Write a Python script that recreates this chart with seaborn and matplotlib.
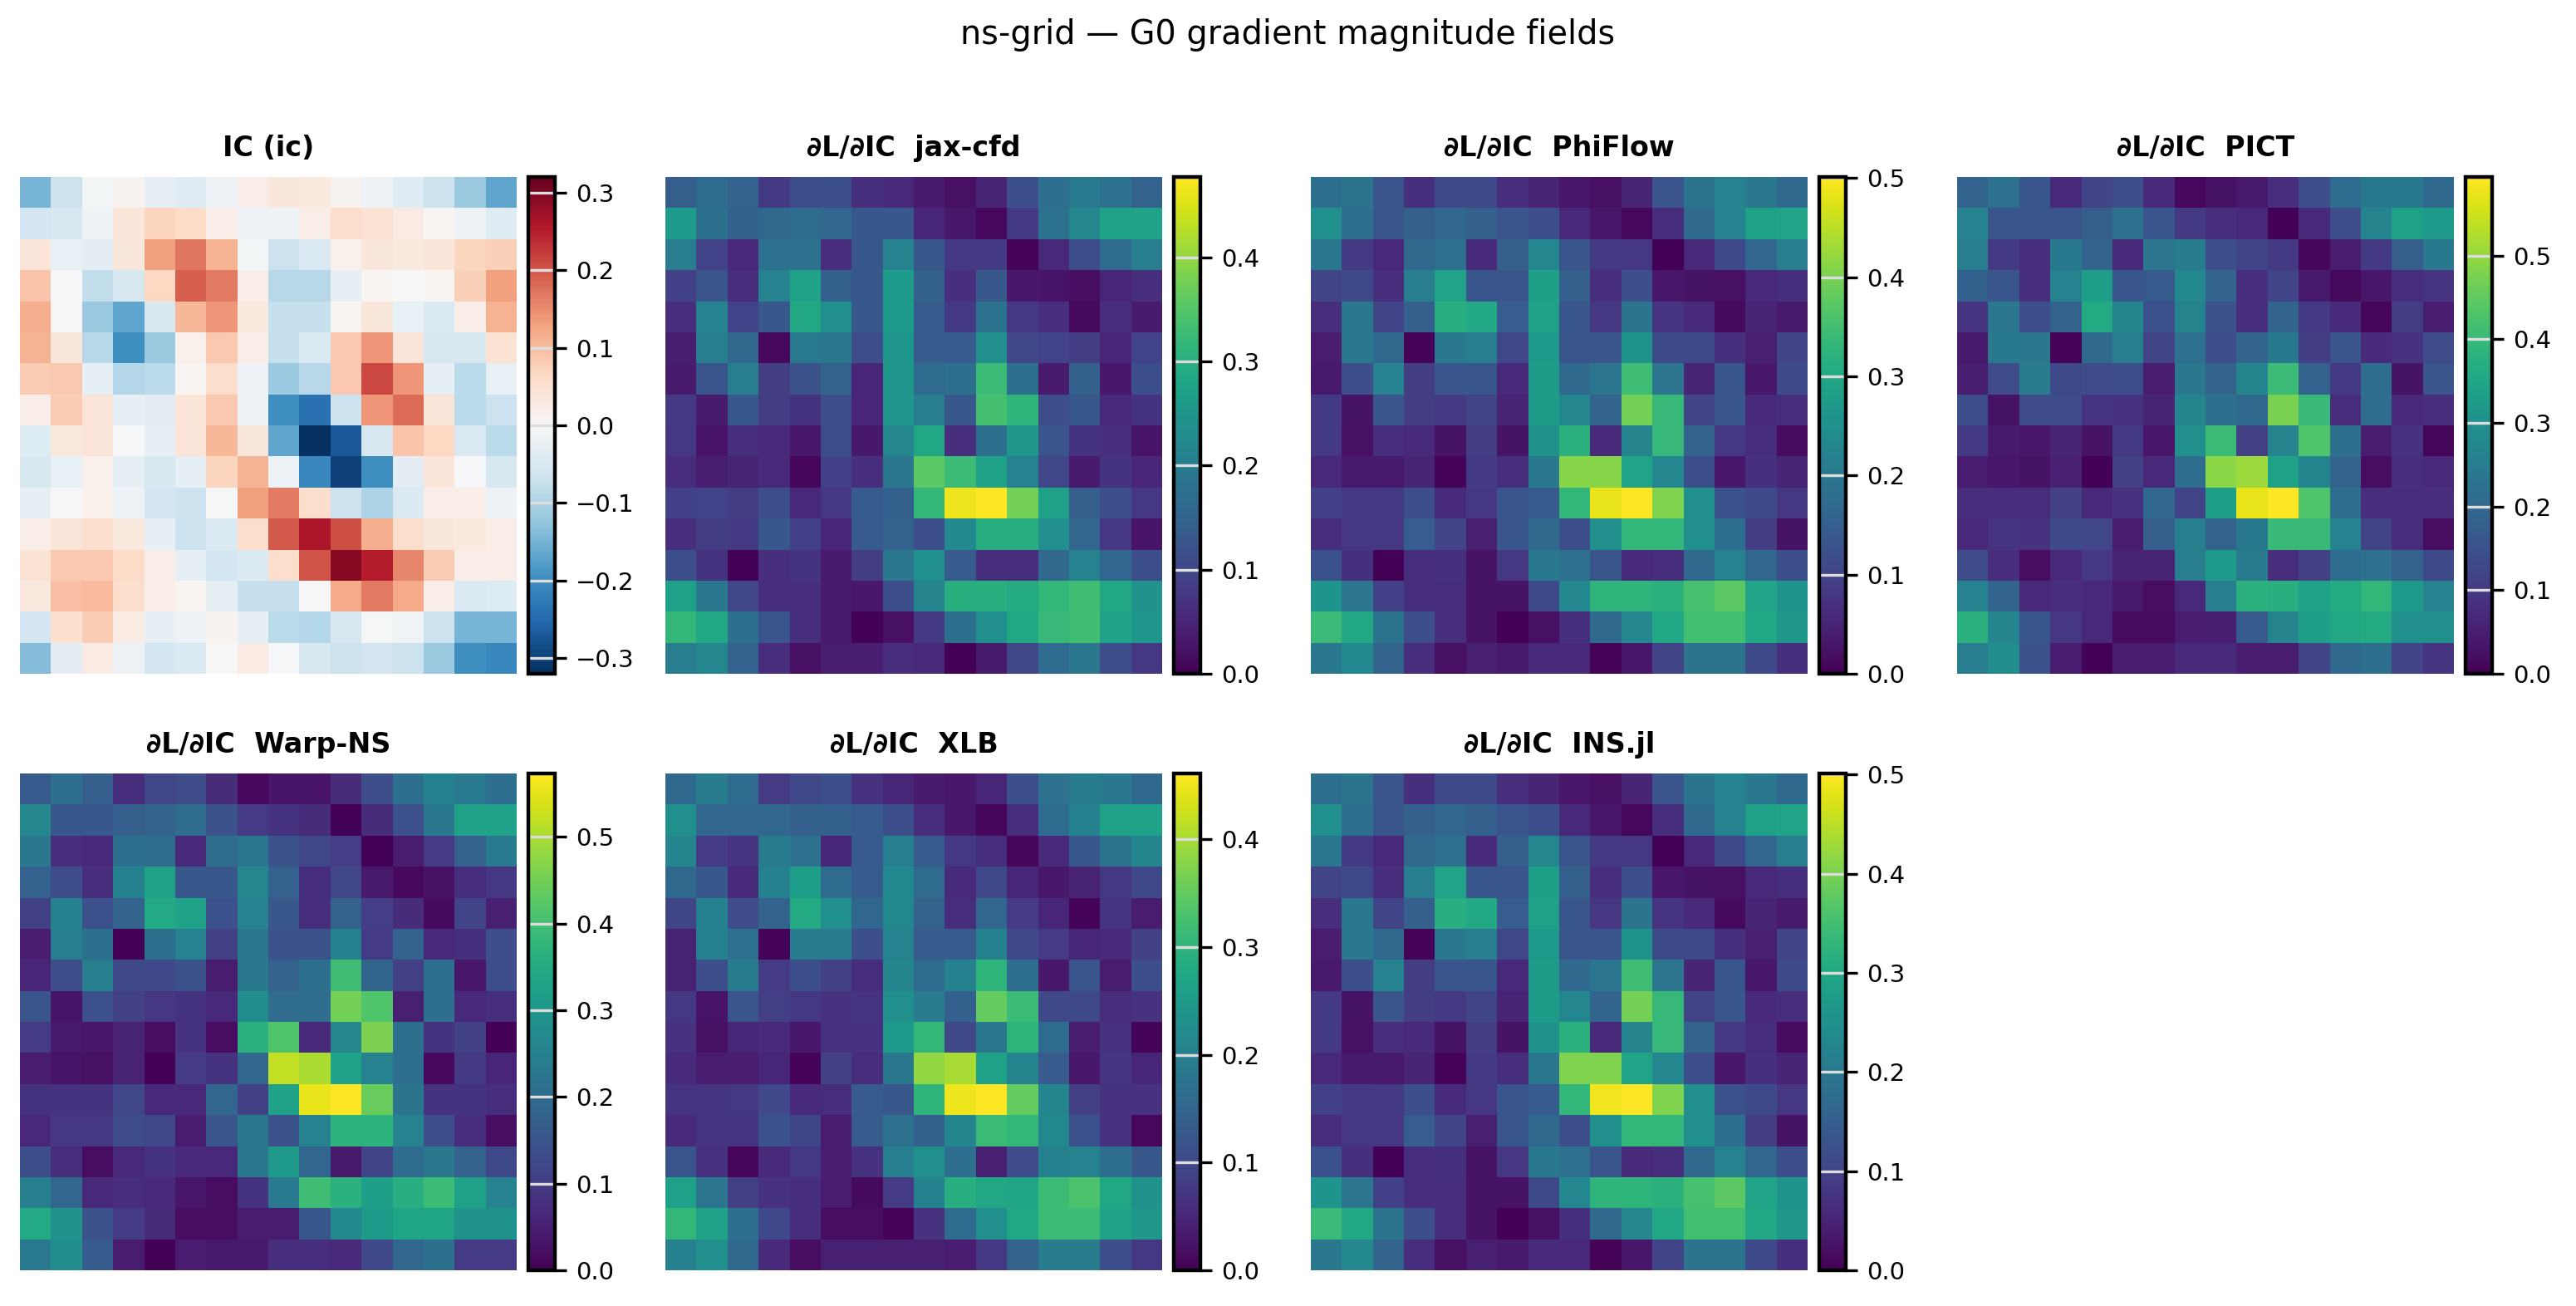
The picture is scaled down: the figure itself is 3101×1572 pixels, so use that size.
import matplotlib
matplotlib.use("Agg")
import matplotlib.pyplot as plt
import numpy as np
import seaborn as sns

# initial condition field (16x16)
ic = [
    [-0.15, -0.07, -0.01, 0.01, -0.03, -0.04, -0.02, 0.02, 0.035, 0.03, 0.01, -0.02, -0.04, -0.07, -0.12, -0.17],
    [-0.06, -0.055, -0.02, 0.04, 0.07, 0.06, 0.02, -0.02, -0.02, 0.02, 0.055, 0.045, 0.025, 0.005, -0.02, -0.04],
    [0.04, -0.025, -0.035, 0.035, 0.13, 0.17, 0.11, -0.01, -0.07, -0.05, 0.015, 0.035, 0.03, 0.04, 0.07, 0.075],
    [0.09, -0.005, -0.08, -0.055, 0.065, 0.19, 0.165, 0.02, -0.09, -0.09, -0.03, 0.005, -0.005, 0.005, 0.075, 0.13],
    [0.115, 0.002, -0.12, -0.17, -0.055, 0.105, 0.14, 0.03, -0.075, -0.075, 0.005, 0.035, -0.025, -0.05, 0.02, 0.11],
    [0.11, 0.035, -0.09, -0.2, -0.12, 0.015, 0.085, 0.02, -0.075, -0.05, 0.085, 0.14, 0.04, -0.055, -0.055, 0.045],
    [0.08, 0.085, -0.03, -0.095, -0.085, 0.005, 0.055, -0.02, -0.12, -0.09, 0.085, 0.21, 0.14, -0.03, -0.085, -0.025],
    [0.02, 0.08, 0.04, -0.03, -0.035, 0.04, 0.085, -0.02, -0.2, -0.24, -0.07, 0.14, 0.18, 0.04, -0.085, -0.07],
    [-0.045, 0.03, 0.04, -0.005, -0.03, 0.04, 0.105, 0.035, -0.17, -0.32, -0.27, -0.055, 0.09, 0.065, -0.05, -0.085],
    [-0.055, -0.025, 0.015, -0.03, -0.055, -0.03, 0.07, 0.11, -0.02, -0.21, -0.3, -0.2, -0.035, 0.04, -0.005, -0.055],
    [-0.03, -0.005, 0.015, -0.02, -0.06, -0.07, 0.002, 0.13, 0.165, 0.055, -0.07, -0.1, -0.05, 0.02, 0.02, -0.02],
    [0.02, 0.04, 0.055, 0.03, -0.03, -0.07, -0.05, 0.055, 0.195, 0.26, 0.205, 0.115, 0.055, 0.035, 0.03, 0.02],
    [0.045, 0.085, 0.085, 0.06, 0.02, -0.03, -0.06, -0.05, 0.055, 0.2, 0.29, 0.25, 0.155, 0.08, 0.02, 0.02],
    [0.03, 0.095, 0.1, 0.055, 0.02, 0.005, -0.03, -0.075, -0.075, 0.002, 0.12, 0.165, 0.12, 0.02, -0.05, -0.045],
    [-0.06, 0.05, 0.08, 0.025, -0.03, -0.02, 0.01, -0.03, -0.085, -0.095, -0.055, -0.005, -0.015, -0.07, -0.15, -0.15],
    [-0.14, -0.035, 0.025, -0.02, -0.06, -0.05, 0.002, 0.025, -0.005, -0.055, -0.07, -0.06, -0.07, -0.12, -0.2, -0.21],
]
ic_limit = 0.32

# |dL/dIC| per solver
jax_cfd = [
    [0.14, 0.165, 0.15, 0.08, 0.11, 0.115, 0.067, 0.055, 0.035, 0.02, 0.048, 0.115, 0.17, 0.195, 0.18, 0.148],
    [0.26, 0.175, 0.145, 0.16, 0.165, 0.155, 0.13, 0.13, 0.052, 0.03, 0.01, 0.08, 0.18, 0.22, 0.275, 0.275],
    [0.2, 0.095, 0.055, 0.18, 0.18, 0.06, 0.13, 0.21, 0.13, 0.08, 0.08, 0.005, 0.055, 0.11, 0.165, 0.2],
    [0.09, 0.125, 0.06, 0.21, 0.275, 0.145, 0.13, 0.26, 0.145, 0.065, 0.13, 0.03, 0.025, 0.015, 0.05, 0.065],
    [0.065, 0.21, 0.095, 0.13, 0.285, 0.235, 0.13, 0.26, 0.135, 0.08, 0.18, 0.075, 0.065, 0.012, 0.06, 0.035],
    [0.04, 0.2, 0.16, 0.01, 0.195, 0.19, 0.11, 0.25, 0.135, 0.135, 0.235, 0.1, 0.095, 0.085, 0.05, 0.095],
    [0.035, 0.125, 0.2, 0.085, 0.12, 0.15, 0.05, 0.25, 0.165, 0.175, 0.325, 0.175, 0.035, 0.145, 0.03, 0.115],
    [0.08, 0.035, 0.13, 0.085, 0.07, 0.11, 0.05, 0.25, 0.2, 0.13, 0.335, 0.31, 0.11, 0.13, 0.055, 0.07],
    [0.075, 0.025, 0.065, 0.055, 0.03, 0.11, 0.03, 0.22, 0.285, 0.065, 0.175, 0.255, 0.125, 0.07, 0.065, 0.025],
    [0.06, 0.04, 0.048, 0.055, 0.008, 0.09, 0.065, 0.19, 0.355, 0.325, 0.275, 0.21, 0.1, 0.035, 0.07, 0.05],
    [0.09, 0.095, 0.085, 0.11, 0.055, 0.075, 0.135, 0.145, 0.315, 0.465, 0.477, 0.375, 0.27, 0.14, 0.115, 0.075],
    [0.065, 0.085, 0.08, 0.13, 0.09, 0.05, 0.135, 0.15, 0.115, 0.225, 0.3, 0.3, 0.235, 0.155, 0.075, 0.025],
    [0.115, 0.07, 0.003, 0.065, 0.07, 0.035, 0.085, 0.19, 0.235, 0.135, 0.065, 0.065, 0.16, 0.21, 0.155, 0.115],
    [0.27, 0.19, 0.1, 0.065, 0.065, 0.035, 0.03, 0.115, 0.215, 0.3, 0.3, 0.29, 0.315, 0.33, 0.285, 0.245],
    [0.315, 0.285, 0.175, 0.125, 0.065, 0.035, 0.003, 0.02, 0.08, 0.175, 0.235, 0.285, 0.32, 0.33, 0.275, 0.25],
    [0.2, 0.22, 0.15, 0.06, 0.02, 0.04, 0.04, 0.06, 0.055, 0.003, 0.035, 0.1, 0.165, 0.19, 0.11, 0.075],
]

phiflow = [
    [0.18, 0.19, 0.13, 0.07, 0.11, 0.11, 0.065, 0.05, 0.03, 0.02, 0.05, 0.13, 0.19, 0.22, 0.2, 0.17],
    [0.25, 0.18, 0.13, 0.15, 0.165, 0.15, 0.13, 0.12, 0.055, 0.03, 0.01, 0.065, 0.17, 0.22, 0.285, 0.29],
    [0.2, 0.085, 0.055, 0.17, 0.185, 0.06, 0.15, 0.23, 0.13, 0.085, 0.08, 0.003, 0.055, 0.11, 0.165, 0.21],
    [0.1, 0.11, 0.065, 0.21, 0.29, 0.135, 0.135, 0.28, 0.15, 0.065, 0.12, 0.03, 0.025, 0.02, 0.055, 0.07],
    [0.065, 0.2, 0.1, 0.15, 0.315, 0.3, 0.145, 0.285, 0.135, 0.08, 0.19, 0.075, 0.06, 0.012, 0.05, 0.035],
    [0.04, 0.2, 0.17, 0.005, 0.2, 0.21, 0.105, 0.27, 0.13, 0.13, 0.26, 0.11, 0.11, 0.07, 0.045, 0.1],
    [0.035, 0.12, 0.22, 0.09, 0.135, 0.135, 0.055, 0.275, 0.17, 0.195, 0.345, 0.195, 0.05, 0.135, 0.03, 0.11],
    [0.085, 0.025, 0.13, 0.09, 0.085, 0.1, 0.05, 0.275, 0.23, 0.16, 0.395, 0.335, 0.1, 0.135, 0.06, 0.065],
    [0.085, 0.02, 0.065, 0.06, 0.025, 0.09, 0.025, 0.255, 0.32, 0.06, 0.225, 0.335, 0.155, 0.08, 0.065, 0.015],
    [0.055, 0.035, 0.035, 0.05, 0.005, 0.085, 0.065, 0.2, 0.41, 0.41, 0.29, 0.23, 0.12, 0.03, 0.07, 0.05],
    [0.095, 0.08, 0.085, 0.12, 0.06, 0.08, 0.13, 0.14, 0.33, 0.485, 0.501, 0.405, 0.25, 0.125, 0.11, 0.08],
    [0.065, 0.08, 0.08, 0.145, 0.1, 0.045, 0.135, 0.17, 0.12, 0.25, 0.33, 0.33, 0.25, 0.18, 0.09, 0.025],
    [0.125, 0.07, 0.003, 0.065, 0.07, 0.025, 0.08, 0.2, 0.185, 0.13, 0.06, 0.065, 0.17, 0.22, 0.165, 0.12],
    [0.26, 0.195, 0.095, 0.065, 0.065, 0.025, 0.025, 0.11, 0.23, 0.325, 0.325, 0.32, 0.355, 0.375, 0.29, 0.26],
    [0.34, 0.3, 0.19, 0.12, 0.065, 0.025, 0.003, 0.02, 0.07, 0.17, 0.23, 0.3, 0.35, 0.35, 0.3, 0.265],
    [0.2, 0.235, 0.16, 0.065, 0.02, 0.045, 0.035, 0.06, 0.055, 0.005, 0.03, 0.1, 0.19, 0.19, 0.11, 0.07],
]

pict = [
    [0.19, 0.22, 0.16, 0.07, 0.12, 0.14, 0.07, 0.012, 0.03, 0.04, 0.08, 0.14, 0.205, 0.24, 0.24, 0.2],
    [0.26, 0.16, 0.155, 0.155, 0.175, 0.22, 0.16, 0.1, 0.08, 0.065, 0.004, 0.07, 0.14, 0.265, 0.34, 0.32],
    [0.25, 0.1, 0.08, 0.24, 0.19, 0.07, 0.23, 0.245, 0.14, 0.12, 0.1, 0.01, 0.045, 0.1, 0.175, 0.24],
    [0.18, 0.16, 0.08, 0.26, 0.33, 0.16, 0.165, 0.28, 0.19, 0.08, 0.12, 0.04, 0.015, 0.035, 0.075, 0.09],
    [0.09, 0.235, 0.14, 0.185, 0.36, 0.27, 0.145, 0.265, 0.15, 0.08, 0.19, 0.1, 0.07, 0.008, 0.105, 0.045],
    [0.04, 0.24, 0.235, 0.005, 0.2, 0.25, 0.12, 0.22, 0.14, 0.19, 0.24, 0.105, 0.155, 0.07, 0.085, 0.135],
    [0.05, 0.135, 0.245, 0.13, 0.135, 0.14, 0.045, 0.235, 0.185, 0.27, 0.405, 0.185, 0.1, 0.21, 0.03, 0.155],
    [0.14, 0.03, 0.135, 0.135, 0.09, 0.085, 0.06, 0.27, 0.215, 0.2, 0.475, 0.4, 0.075, 0.21, 0.065, 0.08],
    [0.1, 0.04, 0.035, 0.06, 0.03, 0.1, 0.035, 0.295, 0.405, 0.115, 0.265, 0.43, 0.215, 0.045, 0.085, 0.008],
    [0.045, 0.035, 0.03, 0.055, 0.003, 0.115, 0.065, 0.21, 0.49, 0.505, 0.34, 0.27, 0.19, 0.02, 0.08, 0.065],
    [0.075, 0.075, 0.075, 0.115, 0.065, 0.085, 0.195, 0.12, 0.33, 0.575, 0.594, 0.43, 0.21, 0.075, 0.075, 0.075],
    [0.065, 0.09, 0.085, 0.13, 0.125, 0.045, 0.175, 0.255, 0.185, 0.24, 0.4, 0.4, 0.26, 0.12, 0.075, 0.02],
    [0.135, 0.075, 0.02, 0.065, 0.095, 0.06, 0.06, 0.25, 0.32, 0.245, 0.075, 0.115, 0.21, 0.22, 0.185, 0.13],
    [0.26, 0.19, 0.065, 0.075, 0.065, 0.04, 0.02, 0.065, 0.25, 0.38, 0.375, 0.34, 0.36, 0.39, 0.32, 0.26],
    [0.38, 0.27, 0.16, 0.095, 0.065, 0.018, 0.018, 0.045, 0.05, 0.165, 0.265, 0.33, 0.355, 0.36, 0.295, 0.295],
    [0.25, 0.29, 0.15, 0.045, 0.004, 0.045, 0.045, 0.065, 0.07, 0.045, 0.045, 0.12, 0.2, 0.215, 0.12, 0.09],
]

warp_ns = [
    [0.16, 0.205, 0.17, 0.075, 0.12, 0.13, 0.07, 0.012, 0.03, 0.03, 0.07, 0.135, 0.205, 0.25, 0.235, 0.205],
    [0.265, 0.155, 0.155, 0.17, 0.18, 0.2, 0.145, 0.1, 0.085, 0.07, 0.004, 0.07, 0.14, 0.23, 0.33, 0.33],
    [0.23, 0.075, 0.065, 0.21, 0.2, 0.065, 0.2, 0.225, 0.145, 0.12, 0.105, 0.004, 0.045, 0.1, 0.175, 0.235],
    [0.175, 0.135, 0.075, 0.25, 0.33, 0.155, 0.155, 0.265, 0.175, 0.075, 0.12, 0.04, 0.012, 0.025, 0.075, 0.09],
    [0.11, 0.25, 0.14, 0.18, 0.345, 0.33, 0.14, 0.255, 0.155, 0.075, 0.18, 0.105, 0.07, 0.015, 0.115, 0.05],
    [0.045, 0.24, 0.21, 0.004, 0.21, 0.255, 0.11, 0.23, 0.145, 0.145, 0.25, 0.1, 0.175, 0.065, 0.08, 0.135],
    [0.06, 0.135, 0.245, 0.125, 0.125, 0.145, 0.045, 0.23, 0.18, 0.21, 0.395, 0.185, 0.11, 0.205, 0.035, 0.135],
    [0.15, 0.03, 0.14, 0.11, 0.09, 0.085, 0.065, 0.28, 0.2, 0.2, 0.45, 0.415, 0.05, 0.205, 0.065, 0.075],
    [0.1, 0.04, 0.035, 0.055, 0.02, 0.085, 0.02, 0.365, 0.415, 0.065, 0.265, 0.46, 0.21, 0.085, 0.11, 0.004],
    [0.045, 0.03, 0.025, 0.055, 0.003, 0.1, 0.085, 0.19, 0.52, 0.5, 0.33, 0.255, 0.205, 0.012, 0.095, 0.06],
    [0.085, 0.085, 0.085, 0.12, 0.065, 0.065, 0.19, 0.11, 0.33, 0.555, 0.573, 0.44, 0.22, 0.085, 0.085, 0.075],
    [0.065, 0.09, 0.09, 0.13, 0.12, 0.045, 0.15, 0.23, 0.145, 0.255, 0.37, 0.37, 0.255, 0.135, 0.075, 0.02],
    [0.135, 0.075, 0.018, 0.065, 0.085, 0.065, 0.065, 0.23, 0.31, 0.19, 0.04, 0.115, 0.2, 0.23, 0.175, 0.125],
    [0.245, 0.19, 0.065, 0.075, 0.065, 0.035, 0.018, 0.085, 0.235, 0.395, 0.365, 0.32, 0.36, 0.39, 0.325, 0.255],
    [0.345, 0.29, 0.145, 0.1, 0.07, 0.018, 0.018, 0.045, 0.045, 0.155, 0.27, 0.31, 0.335, 0.335, 0.29, 0.29],
    [0.235, 0.28, 0.165, 0.045, 0.004, 0.045, 0.04, 0.04, 0.075, 0.075, 0.065, 0.125, 0.19, 0.21, 0.1, 0.1],
]

xlb = [
    [0.155, 0.19, 0.16, 0.08, 0.1, 0.11, 0.065, 0.05, 0.033, 0.03, 0.05, 0.11, 0.17, 0.19, 0.185, 0.155],
    [0.23, 0.15, 0.15, 0.15, 0.14, 0.14, 0.13, 0.11, 0.06, 0.03, 0.008, 0.06, 0.16, 0.2, 0.265, 0.265],
    [0.21, 0.08, 0.07, 0.19, 0.17, 0.05, 0.13, 0.195, 0.13, 0.075, 0.06, 0.008, 0.055, 0.125, 0.175, 0.21],
    [0.155, 0.125, 0.055, 0.2, 0.255, 0.16, 0.13, 0.215, 0.16, 0.055, 0.1, 0.05, 0.03, 0.045, 0.075, 0.1],
    [0.095, 0.2, 0.105, 0.145, 0.28, 0.23, 0.15, 0.215, 0.145, 0.06, 0.15, 0.08, 0.05, 0.004, 0.07, 0.035],
    [0.045, 0.2, 0.17, 0.004, 0.19, 0.19, 0.11, 0.205, 0.13, 0.13, 0.2, 0.1, 0.08, 0.05, 0.055, 0.09],
    [0.045, 0.11, 0.19, 0.08, 0.11, 0.09, 0.06, 0.21, 0.16, 0.2, 0.3, 0.165, 0.03, 0.12, 0.035, 0.11],
    [0.075, 0.025, 0.12, 0.085, 0.075, 0.065, 0.07, 0.23, 0.19, 0.14, 0.35, 0.315, 0.1, 0.1, 0.06, 0.065],
    [0.065, 0.02, 0.05, 0.055, 0.03, 0.065, 0.065, 0.25, 0.305, 0.1, 0.185, 0.3, 0.16, 0.035, 0.065, 0.004],
    [0.055, 0.035, 0.035, 0.05, 0.004, 0.09, 0.06, 0.185, 0.385, 0.4, 0.265, 0.21, 0.13, 0.03, 0.07, 0.05],
    [0.07, 0.07, 0.075, 0.1, 0.055, 0.06, 0.13, 0.125, 0.3, 0.45, 0.461, 0.35, 0.21, 0.085, 0.065, 0.065],
    [0.055, 0.07, 0.07, 0.115, 0.095, 0.035, 0.13, 0.17, 0.14, 0.21, 0.315, 0.305, 0.215, 0.115, 0.065, 0.01],
    [0.12, 0.065, 0.008, 0.055, 0.075, 0.035, 0.065, 0.195, 0.23, 0.165, 0.04, 0.105, 0.2, 0.205, 0.165, 0.125],
    [0.26, 0.18, 0.085, 0.065, 0.06, 0.035, 0.012, 0.08, 0.2, 0.29, 0.275, 0.27, 0.315, 0.33, 0.275, 0.235],
    [0.305, 0.265, 0.165, 0.1, 0.06, 0.015, 0.015, 0.004, 0.065, 0.16, 0.23, 0.275, 0.315, 0.315, 0.265, 0.245],
    [0.2, 0.23, 0.155, 0.055, 0.015, 0.04, 0.04, 0.04, 0.04, 0.035, 0.075, 0.145, 0.19, 0.19, 0.11, 0.075],
]

ins_jl = [
    [0.18, 0.19, 0.13, 0.07, 0.11, 0.11, 0.065, 0.05, 0.03, 0.02, 0.05, 0.13, 0.19, 0.22, 0.2, 0.17],
    [0.25, 0.18, 0.13, 0.15, 0.165, 0.15, 0.13, 0.12, 0.055, 0.03, 0.01, 0.065, 0.17, 0.22, 0.285, 0.29],
    [0.2, 0.085, 0.055, 0.17, 0.185, 0.06, 0.15, 0.23, 0.13, 0.085, 0.08, 0.003, 0.055, 0.11, 0.165, 0.21],
    [0.1, 0.11, 0.065, 0.21, 0.29, 0.135, 0.135, 0.28, 0.15, 0.065, 0.12, 0.03, 0.025, 0.02, 0.055, 0.07],
    [0.065, 0.2, 0.1, 0.15, 0.315, 0.3, 0.145, 0.285, 0.135, 0.08, 0.19, 0.075, 0.06, 0.012, 0.05, 0.035],
    [0.04, 0.2, 0.17, 0.005, 0.2, 0.21, 0.105, 0.27, 0.13, 0.13, 0.26, 0.11, 0.11, 0.07, 0.045, 0.1],
    [0.035, 0.12, 0.22, 0.09, 0.135, 0.135, 0.055, 0.275, 0.17, 0.195, 0.345, 0.195, 0.05, 0.135, 0.03, 0.11],
    [0.085, 0.025, 0.13, 0.09, 0.085, 0.1, 0.05, 0.275, 0.23, 0.16, 0.395, 0.335, 0.1, 0.135, 0.06, 0.065],
    [0.085, 0.02, 0.065, 0.06, 0.025, 0.09, 0.025, 0.255, 0.32, 0.06, 0.225, 0.335, 0.155, 0.08, 0.065, 0.015],
    [0.055, 0.035, 0.035, 0.05, 0.005, 0.085, 0.065, 0.2, 0.405, 0.405, 0.29, 0.23, 0.12, 0.03, 0.07, 0.05],
    [0.095, 0.08, 0.085, 0.12, 0.06, 0.08, 0.13, 0.14, 0.33, 0.49, 0.501, 0.405, 0.25, 0.125, 0.11, 0.08],
    [0.065, 0.08, 0.08, 0.145, 0.1, 0.045, 0.135, 0.17, 0.12, 0.25, 0.33, 0.33, 0.25, 0.18, 0.09, 0.025],
    [0.125, 0.07, 0.003, 0.065, 0.07, 0.025, 0.08, 0.2, 0.185, 0.13, 0.06, 0.065, 0.17, 0.22, 0.165, 0.12],
    [0.26, 0.195, 0.095, 0.065, 0.065, 0.025, 0.025, 0.11, 0.23, 0.325, 0.325, 0.32, 0.355, 0.375, 0.29, 0.26],
    [0.34, 0.3, 0.19, 0.12, 0.065, 0.025, 0.003, 0.02, 0.07, 0.17, 0.23, 0.3, 0.35, 0.35, 0.3, 0.265],
    [0.2, 0.235, 0.16, 0.065, 0.02, 0.045, 0.035, 0.06, 0.055, 0.005, 0.03, 0.1, 0.19, 0.19, 0.11, 0.07],
]

panels = [
    ("IC (ic)", ic),
    ("∂L/∂IC  jax-cfd", jax_cfd),
    ("∂L/∂IC  PhiFlow", phiflow),
    ("∂L/∂IC  PICT", pict),
    ("∂L/∂IC  Warp-NS", warp_ns),
    ("∂L/∂IC  XLB", xlb),
    ("∂L/∂IC  INS.jl", ins_jl),
]

# layout in output pixels (3101 x 1572)
W, H = 3101, 1572
col_left = [24, 801, 1578, 2356]
row_top = [213, 931]
box = 598
cbar_off, cbar_w = 612, 32


def main():
    sns.set_theme(style="white")
    plt.rcParams['font.family'] = ['DejaVu Sans']

    fig = plt.figure(figsize=(W / 200, H / 200), dpi=200)
    fig.suptitle("ns-grid — G0 gradient magnitude fields", fontsize=14.3,
                 color="black", y=1 - 42 / H, va="center")

    for i, (title, field) in enumerate(panels):
        r, c = divmod(i, 4)
        left = col_left[c]
        bottom = H - row_top[r] - box
        ax = fig.add_axes([left / W, bottom / H, box / W, box / H])
        cax = fig.add_axes([(left + cbar_off) / W, bottom / H, cbar_w / W, box / H])

        data = np.array(field)
        if i == 0:
            # symmetric diverging range around zero
            sns.heatmap(data, ax=ax, cbar_ax=cax, cmap="RdBu_r",
                        vmin=-ic_limit, vmax=ic_limit,
                        xticklabels=False, yticklabels=False)
        else:
            sns.heatmap(data, ax=ax, cbar_ax=cax, cmap="viridis", vmin=0,
                        xticklabels=False, yticklabels=False)
        ax.set_title(title, fontsize=12, fontweight="bold", color="black", pad=9)

        cbar = ax.collections[0].colorbar
        cbar.outline.set_visible(True)
        cbar.outline.set_edgecolor("black")
        cbar.outline.set_linewidth(1.6)
        cbar.outline.set_zorder(4)
        cax.tick_params(labelsize=10.5, length=5, width=1.2, color="black",
                        labelcolor="black", pad=4)
        cax.set_axisbelow(False)
        cax.yaxis.grid(True, color="#dddddd", linewidth=1.2)
        cax.xaxis.grid(False)

    fig.savefig("out.png", dpi=200)


if __name__ == '__main__':
    main()
